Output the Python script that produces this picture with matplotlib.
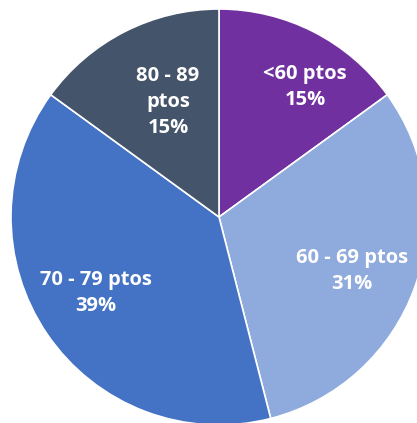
import matplotlib
matplotlib.use("Agg")
import matplotlib.pyplot as plt

# slice data, clockwise from 12 o'clock
categories = ["<60 ptos", "60 - 69 ptos", "70 - 79 ptos", "80 - 89\nptos"]
shares = [15, 31, 39, 15]
colors = ["#7030A0", "#8FAADC", "#4472C4", "#44546A"]

W, H = 417, 423
CX, CY, R = 219, H - 217, 208

fig = plt.figure(figsize=(W / 100, H / 100), dpi=100)
ax = fig.add_axes([0, 0, 1, 1])

ax.pie(
    shares,
    colors=colors,
    startangle=90,
    counterclock=False,
    center=(CX, CY),
    radius=R,
    wedgeprops=dict(edgecolor="white", linewidth=1.2),
)

# label anchors in pixel coords (Excel best-fit placement)
label_pos = [(305, 87), (352, 271), (96, 293), (168, 102)]
for cat, val, (lx, ly) in zip(categories, shares, label_pos):
    ax.text(lx, H - ly, f"{cat}\n{val}%", ha="center", va="center",
            color="white", fontsize=14.5, fontweight="bold", family="Open Sans",
            linespacing=1.4)

ax.set_xlim(0, W)
ax.set_ylim(0, H)
ax.set_aspect("auto")
ax.axis("off")

fig.savefig("out.png", dpi=100)
